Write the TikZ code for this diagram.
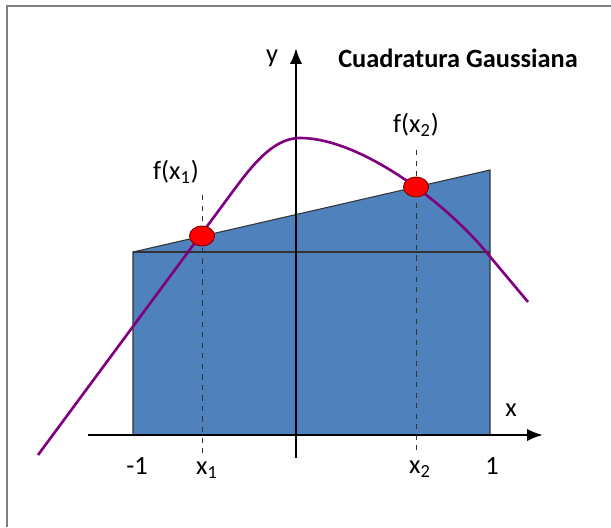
\documentclass[tikz,border=0pt]{standalone}
\usepackage{fontspec}
\setmainfont{Carlito}
\usepackage{xcolor}
\usepackage{tikz}
\usetikzlibrary{arrows.meta, shapes.geometric}
\definecolor{areacol}{RGB}{79,129,189}
\definecolor{curvecol}{RGB}{128,0,128}
\definecolor{dotcol}{RGB}{255,0,0}

\begin{document}
\begin{tikzpicture}[
  font=\fontsize{15}{18}\selectfont,
  axis/.style={-{Latex[length=9pt,width=7pt]}, line width=1.4pt, black},
  area/.style={fill=areacol, draw=black!80, line width=0.6pt},
  dot/.style={ellipse, fill=dotcol, draw=red!50!black, line width=0.5pt,
              minimum width=0.5cm, minimum height=0.4cm, inner sep=0pt},
  guide/.style={dashed, black!80, line width=0.5pt},
  lbl/.style={inner sep=1pt}
]
  \useasboundingbox (0,0) rectangle (12.22,10.54);
  \draw[gray, line width=1.5pt] (0.14,0) -- (0.14,10.42) -- (12.22,10.42);

  % area under the straight line
  \coordinate (bl) at (2.66,1.84);
  \coordinate (br) at (9.80,1.84);
  \coordinate (tl) at (2.66,5.50);
  \coordinate (tr) at (9.80,7.14);
  \coordinate (mr) at (9.80,5.50);
  \draw[area] (bl) -- (tl) -- (tr) -- (br) -- cycle;
  \draw[black!80, line width=0.6pt] (tl) -- (mr);

  % axes
  \coordinate (x0) at (1.76,1.84);
  \coordinate (x9) at (10.86,1.84);
  \coordinate (y0) at (5.92,1.38);
  \coordinate (y9) at (5.92,9.58);
  \draw[axis] (x0) -- (x9);
  \draw[axis] (y0) -- (y9);

  % the function
  \coordinate (c0) at (0.76,1.44);
  \coordinate (c1) at (4.70,6.77);
  \coordinate (top) at (6.0,7.78);
  \coordinate (c2) at (9.74,5.48);
  \coordinate (c3) at (10.56,4.50);
  \draw[curvecol, line width=1.5pt] (c0) -- (c1)
    .. controls (5.1,7.31) and (5.5,7.78) .. (top)
    .. controls (7.2,7.78) and (8.9,6.5) .. (c2) -- (c3);

  % nodes of the rule
  \coordinate (g1) at (4.04,6.64);
  \coordinate (h1) at (4.04,1.44);
  \coordinate (g2) at (8.32,7.54);
  \coordinate (h2) at (8.32,1.54);
  \draw[guide] (g1) -- (h1);
  \draw[guide] (g2) -- (h2);
  \node[dot] (p1) at (4.04,5.82) {};
  \node[dot] (p2) at (8.32,6.80) {};

  \node[lbl] (f1) at (3.52,7.10) {f(x\textsubscript{1})};
  \node[lbl] (f2) at (8.32,8.04) {f(x\textsubscript{2})};
  \node[lbl] (a)  at (2.74,1.22) {-1};
  \node[lbl] (b)  at (9.84,1.22) {1};
  \node[lbl] (n1) at (4.14,1.14) {x\textsubscript{1}};
  \node[lbl] (n2) at (8.40,1.16) {x\textsubscript{2}};
  \node[lbl] (xl) at (10.22,2.34) {x};
  \node[lbl] (yl) at (5.44,9.38) {y};
  \node[lbl, font=\fontsize{15}{18}\selectfont\bfseries] (title) at (9.16,9.38)
    {Cuadratura Gaussiana};
\end{tikzpicture}
\end{document}
